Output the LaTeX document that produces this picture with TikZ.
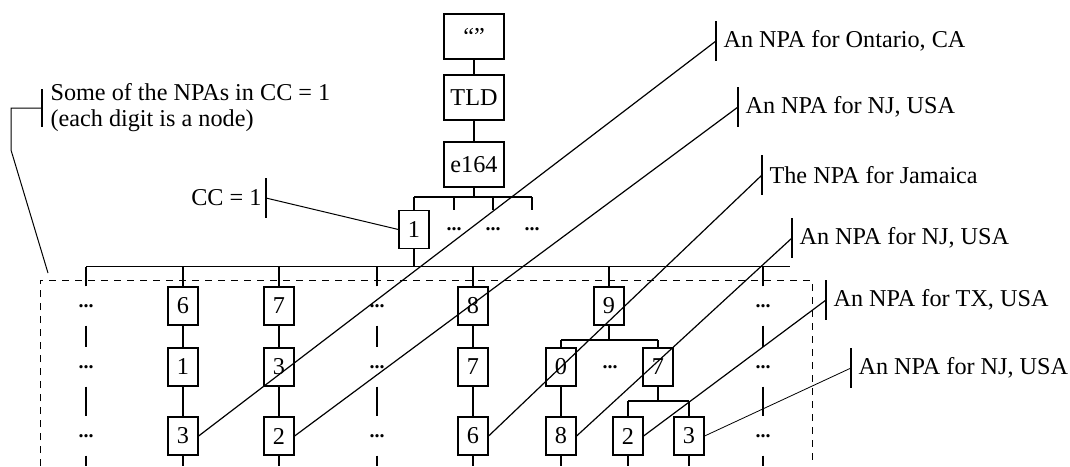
\documentclass[tikz,border=0pt]{standalone}
\usepackage{fontspec}
\setmainfont{Liberation Serif}
\usetikzlibrary{calc}

\begin{document}
\begin{tikzpicture}[
    x=1pt, y=-1pt,
    line width=1.2pt,
    font=\fontsize{24.2}{26}\selectfont,
    topbox/.style={draw, minimum width=60, minimum height=45, inner sep=0pt},
    box/.style={draw, minimum width=30, minimum height=38, inner sep=0pt},
    dotsbox/.style={minimum width=30, minimum height=38, inner sep=0pt, font=\fontsize{20}{20}\selectfont\bfseries},
    note/.style={anchor=west, inner xsep=7pt, inner ysep=0pt, align=left},
    callbar/.style={line width=1.2pt},
    frame/.style={dashed, dash pattern=on 7pt off 6pt, line width=1pt}
]
\useasboundingbox (0,0) rectangle (1070,466);

% Top of the tree
\node[topbox] (root) at (474,36.5) {“”};
\node[topbox] (tld) at (474,97.5) {TLD};
\node[topbox] (e164) at (474,164.5) {e164};
\draw (root) -- (tld);
\draw (tld) -- (e164);

% Country codes
\node[box] (cc1) at (414,229.5) {1};
\node[dotsbox] (ccA) at (454,229.5) {...};
\node[dotsbox] (ccB) at (493,229.5) {...};
\node[dotsbox] (ccC) at (532,229.5) {...};
\coordinate (fork0) at (0,197);
\draw (e164) -- (e164 |- fork0);
\draw (cc1 |- fork0) -- (ccC |- fork0);
\draw (cc1) -- (cc1 |- fork0);
\draw (ccA) -- (ccA |- fork0);
\draw (ccB) -- (ccB |- fork0);
\draw (ccC) -- (ccC |- fork0);

% NPAs: first digit
\node[dotsbox] (a1) at (86,306) {...};
\node[box] (b1) at (183,306) {6};
\node[box] (c1) at (279,306) {7};
\node[dotsbox] (d1) at (377,306) {...};
\node[box] (e1) at (473,306) {8};
\node[box] (f1) at (609,306) {9};
\node[dotsbox] (g1) at (763,306) {...};
\coordinate (busend) at (790,266.5);
\draw (cc1) -- (cc1 |- busend);
\draw (a1 |- busend) -- (busend);
\draw (a1) -- (a1 |- busend);
\draw (b1) -- (b1 |- busend);
\draw (c1) -- (c1 |- busend);
\draw (d1) -- (d1 |- busend);
\draw (e1) -- (e1 |- busend);
\draw (f1) -- (f1 |- busend);
\draw (g1) -- (g1 |- busend);

% NPAs: second digit
\node[dotsbox] (a2) at (86,367) {...};
\node[box] (b2) at (183,367) {1};
\node[box] (c2) at (279,367) {3};
\node[dotsbox] (d2) at (377,367) {...};
\node[box] (e2) at (473,367) {7};
\node[box] (f2a) at (561,367) {0};
\node[dotsbox] (f2b) at (610,367) {...};
\node[box] (f2c) at (658,367) {7};
\node[dotsbox] (g2) at (763,367) {...};
\draw (a1) -- (a2);
\draw (b1) -- (b2);
\draw (c1) -- (c2);
\draw (d1) -- (d2);
\draw (e1) -- (e2);
\draw (g1) -- (g2);
\coordinate (fork9) at (0,340);
\draw (f1) -- (f1 |- fork9);
\draw (f2a |- fork9) -- (f2c |- fork9);
\draw (f2a) -- (f2a |- fork9);
\draw (f2c) -- (f2c |- fork9);

% NPAs: third digit
\node[dotsbox] (a3) at (86,436) {...};
\node[box] (b3) at (183,436) {3};
\node[box] (c3) at (279,436) {2};
\node[dotsbox] (d3) at (377,436) {...};
\node[box] (e3) at (473,436) {6};
\node[box] (f3a) at (561,436) {8};
\node[box] (f3b) at (628,436) {2};
\node[box] (f3c) at (689,436) {3};
\node[dotsbox] (g3) at (763,436) {...};
\draw (a2) -- (a3);
\draw (b2) -- (b3);
\draw (c2) -- (c3);
\draw (d2) -- (d3);
\draw (e2) -- (e3);
\draw (f2a) -- (f3a);
\draw (g2) -- (g3);
\coordinate (fork7) at (0,401);
\draw (f2c) -- (f2c |- fork7);
\draw (f3b |- fork7) -- (f3c |- fork7);
\draw (f3b) -- (f3b |- fork7);
\draw (f3c) -- (f3c |- fork7);

% Lines on to the next level
\coordinate (bottom) at (0,466);
\draw (a3) -- (a3 |- bottom);
\draw (b3) -- (b3 |- bottom);
\draw (c3) -- (c3 |- bottom);
\draw (d3) -- (d3 |- bottom);
\draw (e3) -- (e3 |- bottom);
\draw (f3a) -- (f3a |- bottom);
\draw (f3b) -- (f3b |- bottom);
\draw (f3c) -- (f3c |- bottom);
\draw (g3) -- (g3 |- bottom);

% Dashed frame round the NPAs
\coordinate (fsw) at (40,466);
\coordinate (fnw) at (40,280);
\coordinate (fne) at (812,280);
\coordinate (fse) at (812,466);
\draw[frame] (fsw) -- (fnw) -- (fne) -- (fse);

% Callouts
\node[note, inner xsep=8pt] (some) at (42,108) {Some of the NPAs in CC = 1\\(each digit is a node)};
\draw[callbar] ([yshift=19pt]some.west) -- ([yshift=-19pt]some.west);
\coordinate (someend) at (48,273);
\draw[line width=1pt] (some.west) -- ++(-31,0) -- ++(0,42) -- (someend);

\node[anchor=east, inner xsep=4pt, inner ysep=0pt] (cc) at (266,198) {CC = 1};
\draw[callbar] ([yshift=20pt]cc.east) -- ([yshift=-20pt]cc.east);
\draw[line width=1pt] (cc.east) -- (cc1.west);

\node[note] (ont) at (716,41) {An NPA for Ontario, CA};
\draw[callbar] ([yshift=20pt]ont.west) -- ([yshift=-20pt]ont.west);
\draw (b3.east) -- (ont.west);

\node[note] (nja) at (738,107) {An NPA for NJ, USA};
\draw[callbar] ([yshift=20pt]nja.west) -- ([yshift=-20pt]nja.west);
\draw (c3.east) -- (nja.west);

\node[note] (jam) at (762,175) {The NPA for Jamaica};
\draw[callbar] ([yshift=20pt]jam.west) -- ([yshift=-20pt]jam.west);
\draw (e3.east) -- (jam.west);

\node[note] (njb) at (792,238) {An NPA for NJ, USA};
\draw[callbar] ([yshift=20pt]njb.west) -- ([yshift=-20pt]njb.west);
\draw (f3a.east) -- (njb.west);

\node[note] (tx) at (826,300) {An NPA for TX, USA};
\draw[callbar] ([yshift=20pt]tx.west) -- ([yshift=-20pt]tx.west);
\draw (f3b.east) -- (tx.west);

\node[note] (njc) at (851,368) {An NPA for NJ, USA};
\draw[callbar] ([yshift=20pt]njc.west) -- ([yshift=-20pt]njc.west);
\draw[line width=0.8pt] (f3c.east) -- (njc.west);

\end{tikzpicture}
\end{document}
